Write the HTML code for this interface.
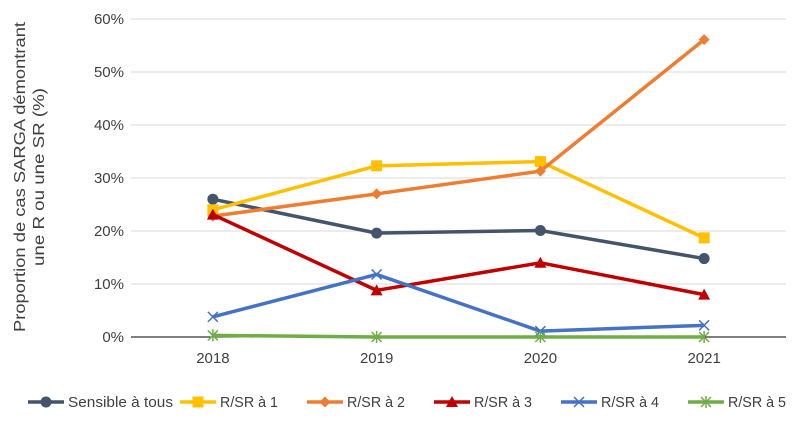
<!DOCTYPE html>
<html><head><meta charset="utf-8"><style>
body{margin:0;background:#fff;width:800px;height:425px;overflow:hidden;font-family:"Liberation Sans",sans-serif;}
text{font-family:"Liberation Sans",sans-serif;fill:#404040;}
</style></head><body>
<svg id="chart" width="800" height="425" xmlns="http://www.w3.org/2000/svg"></svg>
<script>
const categories=["2018","2019","2020","2021"];
const yTicks=[0,10,20,30,40,50,60];
const seriesNames=["Sensible à tous","R/SR à 1","R/SR à 2","R/SR à 3","R/SR à 4","R/SR à 5"];
const sSensible=[26.0,19.6,20.1,14.8];
const sR1=[24.0,32.3,33.1,18.7];
const sR2=[22.8,27.0,31.3,56.1];
const sR3=[23.1,8.8,14.0,8.0];
const sR4=[3.8,11.8,1.1,2.2];
const sR5=[0.3,0,0,0];
const allSeries=[sSensible,sR1,sR2,sR3,sR4,sR5];
const colors=["#44546a","#ffc000","#ed7d31","#c00000","#4472c4","#70ad47"];
const markers=["circle","square","diamond","triangle","x","star"];
const NS="http://www.w3.org/2000/svg";
const svg=document.getElementById("chart");
const L=131,R=786,T=19,B=337;
const xs=i=>L+(R-L)*(i+0.5)/categories.length;
const ys=v=>B-(B-T)*v/60;
function mk(tag,attrs,parent){const e=document.createElementNS(NS,tag);for(const k in attrs)e.setAttribute(k,attrs[k]);(parent||svg).appendChild(e);return e;}
yTicks.forEach(t=>{
  const g=mk("line",{x1:L,x2:R,y1:ys(t),y2:ys(t),stroke:t===0?"#000":"#d9d9d9","stroke-width":1});
  
  
  const tx=mk("text",{x:L-7,y:ys(t)+5,"text-anchor":"end","font-size":"15"});
  tx.textContent=t+"%";
  
  
});
categories.forEach((c,i)=>{
  const tx=mk("text",{x:xs(i),y:363,"text-anchor":"middle","font-size":"15"});
  tx.textContent=c;
  
  
});
const yt=mk("text",{transform:"translate(25,177) rotate(-90)","text-anchor":"middle","font-size":"16"});


const t1=mk("tspan",{x:0,dy:0,textLength:310,lengthAdjust:"spacingAndGlyphs"},yt);t1.textContent="Proportion de cas SARGA démontrant";
const t2=mk("tspan",{x:0,dy:19,textLength:178,lengthAdjust:"spacingAndGlyphs"},yt);t2.textContent="une R ou une SR (%)";
function marker(type,x,y,c,g){
  let e;
  if(type==="circle")e=mk("circle",{cx:x,cy:y,r:5.5,fill:c},g);
  else if(type==="square")e=mk("rect",{x:x-5.5,y:y-5.5,width:11,height:11,fill:c},g);
  else if(type==="diamond")e=mk("polygon",{points:`${x},${y-5.5} ${x+5.5},${y} ${x},${y+5.5} ${x-5.5},${y}`,fill:c},g);
  else if(type==="triangle")e=mk("polygon",{points:`${x},${y-6} ${x+6},${y+5} ${x-6},${y+5}`,fill:c},g);
  else if(type==="x")e=mk("path",{d:`M${x-5} ${y-5}L${x+5} ${y+5}M${x+5} ${y-5}L${x-5} ${y+5}`,stroke:c,"stroke-width":1.5,fill:"none"},g);
  else e=mk("path",{d:`M${x-5} ${y-5}L${x+5} ${y+5}M${x+5} ${y-5}L${x-5} ${y+5}M${x} ${y-6}L${x} ${y+6}`,stroke:c,"stroke-width":1.5,fill:"none"},g);
  return e;
}
allSeries.forEach((s,k)=>{
  const g=mk("g",{});
  
  
  const pts=s.map((v,i)=>xs(i)+","+ys(v)).join(" ");
  mk("polyline",{points:pts,fill:"none",stroke:colors[k],"stroke-width":3.5,"stroke-linejoin":"round"},g);
  s.forEach((v,i)=>{
    const m=marker(markers[k],xs(i),ys(v),colors[k],g);
    
    
  });
});
const legX=[28,180,307,434,561,688];
const legW=[105,58,58,58,58,58];
seriesNames.forEach((n,k)=>{
  const g=mk("g",{});
  
  
  const x=legX[k],y=402;
  mk("line",{x1:x,x2:x+36,y1:y,y2:y,stroke:colors[k],"stroke-width":3.5},g);
  marker(markers[k],x+18,y,colors[k],g);
  const tx=mk("text",{x:x+40,y:y+5,"font-size":"15",textLength:legW[k],lengthAdjust:"spacingAndGlyphs"},g);
  tx.textContent=n;
});
</script>
</body></html>
